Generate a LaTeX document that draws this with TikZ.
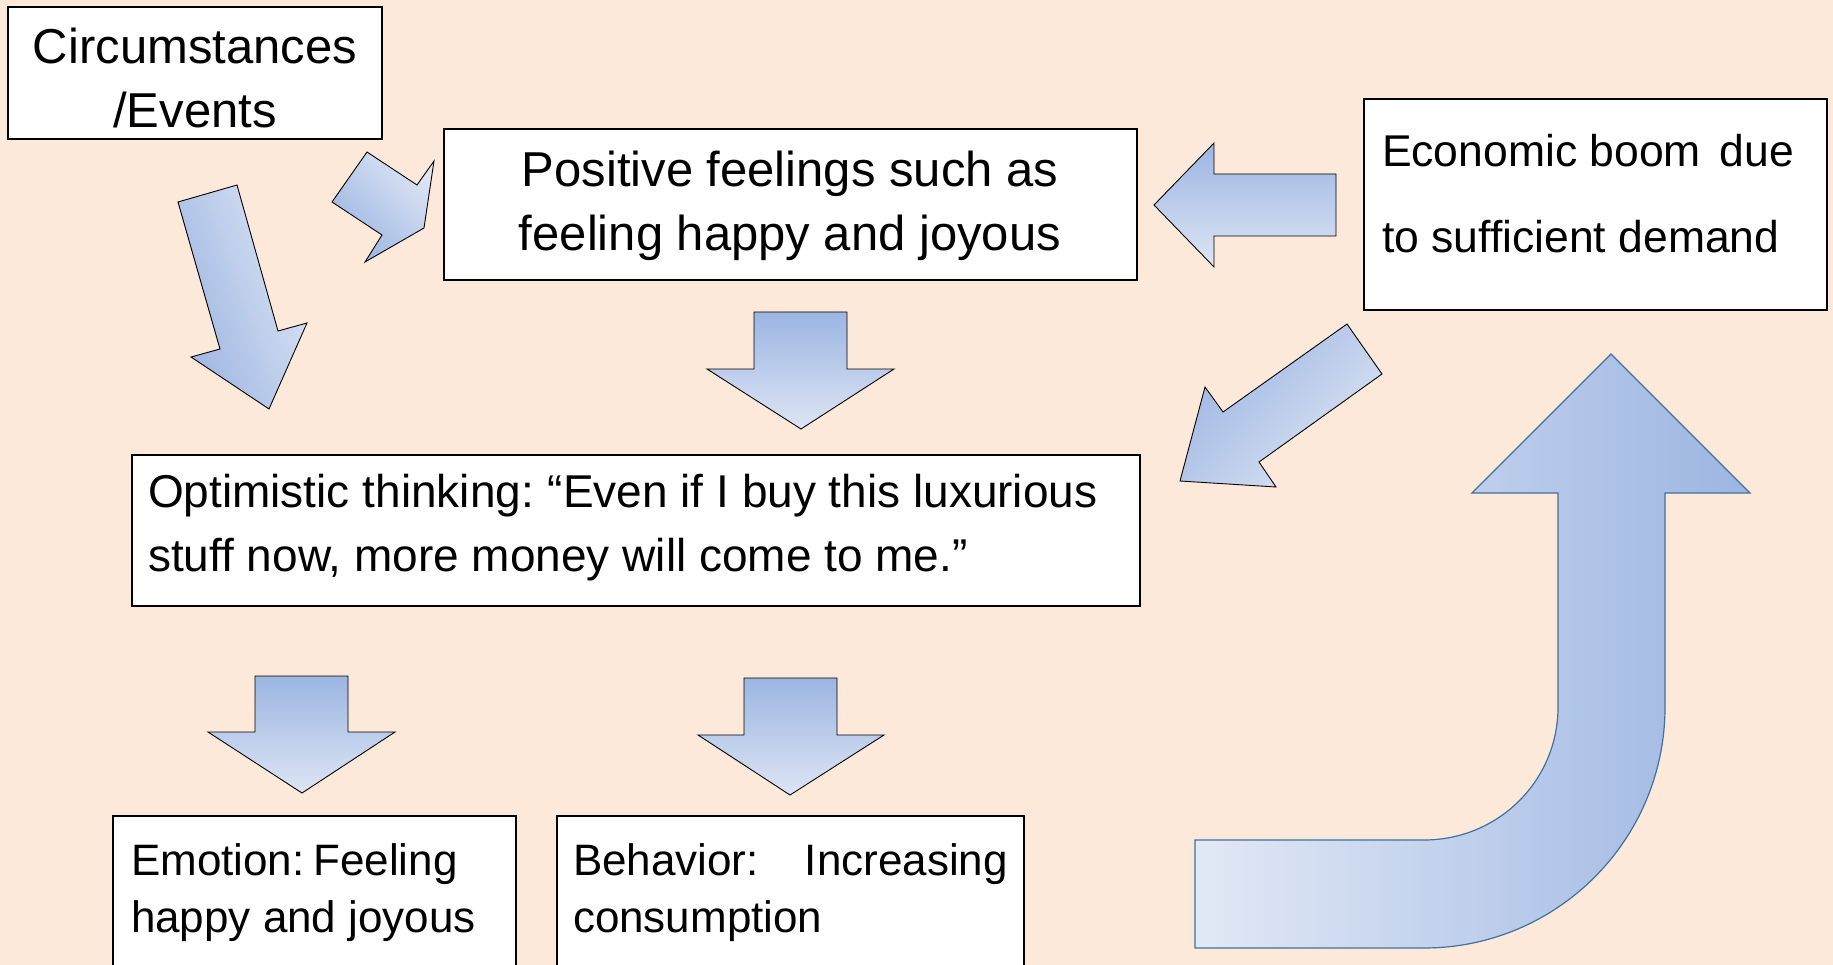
\documentclass[tikz,border=0pt]{standalone}
\usepackage{fontspec}
\setmainfont{Liberation Sans}
\definecolor{bgpeach}{HTML}{FDE9D9}
\definecolor{arrdark}{HTML}{9CB5E2}
\definecolor{arrlight}{HTML}{DDE5F4}
\definecolor{uedge}{HTML}{41719C}
\tikzset{
  boxst/.style={draw=black, line width=1.6pt, fill=white, inner sep=0pt, outer sep=0pt, anchor=north west},
  barrow/.style={draw=black, line width=0.9pt, line join=miter},
  txt/.style={inner sep=0pt, outer sep=0pt, text=black},
}
\begin{document}
\begin{tikzpicture}[x=1pt,y=-1pt]
\useasboundingbox (0,0) rectangle (1833,965);
\fill[bgpeach] (0,0) rectangle (1833,965);

% ---------- boxes ----------
\node[boxst, minimum width=374pt, minimum height=132pt] (circ) at (8,7) {};
\node[boxst, minimum width=693pt, minimum height=151pt] (pos) at (444,129) {};
\node[boxst, minimum width=463pt, minimum height=211pt] (eco) at (1364,99) {};
\node[boxst, minimum width=1008pt, minimum height=151pt] (opt) at (132,455) {};
\node[boxst, minimum width=403pt, minimum height=160pt] (emo) at (113,816) {};
\node[boxst, minimum width=467pt, minimum height=160pt] (beh) at (557,816) {};

% ---------- texts ----------
\node[txt, anchor=base, font=\fontsize{49}{58}\selectfont] (circA) at (195,64) {Circumstances};
\node[txt, anchor=base, font=\fontsize{49}{58}\selectfont] (circB) at (195,128) {/Events};

\node[txt, anchor=base, font=\fontsize{49}{58}\selectfont] (posA) at (790,187) {Positive feelings such as};
\node[txt, anchor=base, font=\fontsize{49}{58}\selectfont] (posB) at (790,251) {feeling happy and joyous};

\node[txt, anchor=base west, font=\fontsize{44.5}{52}\selectfont] (ecoA) at (1382,167) {\makebox[412pt][l]{Economic boom\hfill due}};
\node[txt, anchor=base west, font=\fontsize{44.5}{52}\selectfont] (ecoB) at (1382,253) {to sufficient demand};

\node[txt, anchor=base west, font=\fontsize{46}{54}\selectfont] (optA) at (148,507) {Optimistic thinking:\hspace{0.3em}“Even if I buy this luxurious};
\node[txt, anchor=base west, font=\fontsize{46}{54}\selectfont] (optB) at (148,571) {stuff now, more money will come to me.”};

\node[txt, anchor=base west, font=\fontsize{44}{52}\selectfont] (emoA) at (131,875) {Emotion:\hspace{0.2em}Feeling};
\node[txt, anchor=base west, font=\fontsize{44}{52}\selectfont] (emoB) at (131,932) {happy and joyous};

\node[txt, anchor=base west, font=\fontsize{44}{52}\selectfont] (behA) at (573,875) {\makebox[435pt][l]{Behavior:\hfill Increasing}};
\node[txt, anchor=base west, font=\fontsize{44}{52}\selectfont] (behB) at (573,932) {consumption};

% ---------- block arrows ----------
% big arrow from Circumstances
\path[barrow, top color=arrlight, bottom color=arrdark, shading angle=-70]
  (178,202) -- (237,185) -- (278,331) -- (307,323) -- (269,409) -- (191,357) -- (220,349) -- cycle;
% small arrow into Positive box
\path[barrow, top color=arrlight, bottom color=arrdark, shading angle=-45]
  (367,152) -- (417,185) -- (434,161) -- (424,228) -- (365,262) -- (382,235) -- (332,202) -- cycle;
% Positive -> Optimistic
\path[barrow, top color=arrdark, bottom color=arrlight]
  (754,312) -- (847,312) -- (847,369) -- (894,369) -- (801,429) -- (707,369) -- (754,369) -- cycle;
% Economic -> Positive
\path[barrow, top color=arrdark, bottom color=arrlight]
  (1336,174) -- (1214,174) -- (1214,143) -- (1154,205) -- (1214,267) -- (1214,236) -- (1336,236) -- cycle;
% Economic -> Optimistic (diagonal)
\path[barrow, top color=arrdark, bottom color=arrlight, shading angle=45]
  (1347,324) -- (1382,374) -- (1259,462) -- (1276,487) -- (1180,481) -- (1205,387) -- (1223,412) -- cycle;
% Optimistic -> Emotion
\path[barrow, top color=arrdark, bottom color=arrlight]
  (255,676) -- (348,676) -- (348,732) -- (395,732) -- (302,793) -- (208,732) -- (255,732) -- cycle;
% Optimistic -> Behavior
\path[barrow, top color=arrdark, bottom color=arrlight]
  (744,678) -- (837,678) -- (837,735) -- (884,735) -- (790,795) -- (698,735) -- (744,735) -- cycle;
% big U-turn arrow
\path[draw=uedge, line width=1.2pt, left color=arrlight!85!white, right color=arrdark]
  (1195,840) -- (1424,840) .. controls (1498,840) and (1558,781) .. (1558,707)
  -- (1558,493) -- (1472,493) -- (1611,354) -- (1750,493) -- (1665,493) -- (1665,707)
  .. controls (1665,840) and (1557,948) .. (1424,948) -- (1195,948) -- cycle;
\end{tikzpicture}
\end{document}
